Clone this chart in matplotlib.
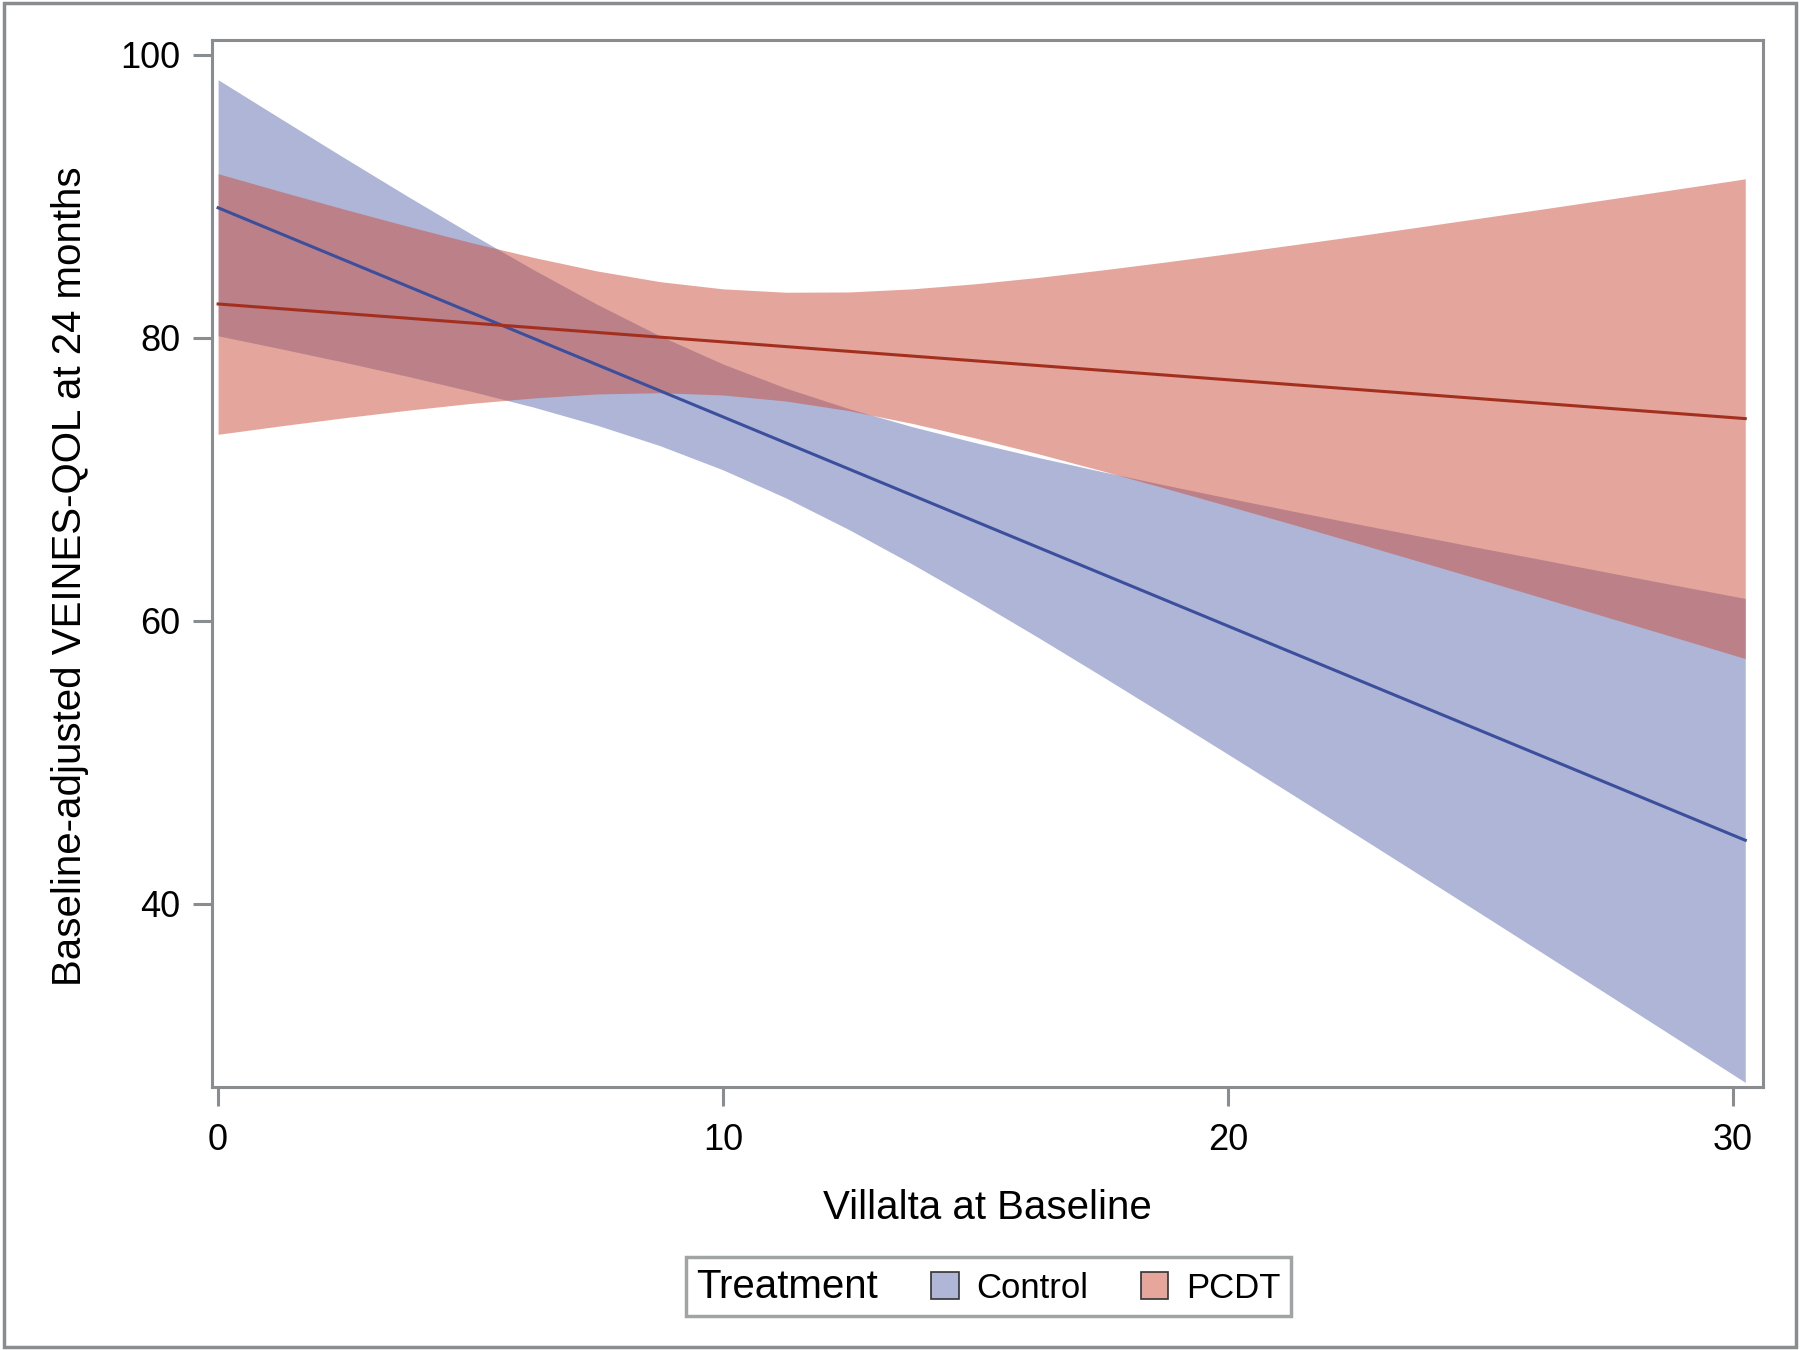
import matplotlib
matplotlib.use("Agg")
import matplotlib.pyplot as plt
from matplotlib.patches import Patch, Rectangle

# Regression fits of VEINES-QOL on baseline Villalta, with 95% bands, by treatment arm
band_x = [0, 1.25, 2.5, 3.75, 5, 6.25, 7.5, 8.75, 10, 11.25, 12.5, 13.75, 15,
          16.25, 17.5, 18.75, 20, 21.25, 22.5, 23.75, 25, 26.25, 27.5, 28.75, 30, 30.25]

control_upper = [98.25, 95.48, 92.73, 90.02, 87.38, 84.82, 82.39, 80.15, 78.16, 76.45,
                 75.00, 73.73, 72.60, 71.55, 70.56, 69.61, 68.69, 67.79, 66.90, 66.03,
                 65.16, 64.31, 63.45, 62.60, 61.76, 61.59]
control_lower = [80.15, 79.23, 78.28, 77.29, 76.24, 75.11, 73.84, 72.39, 70.68, 68.69,
                 66.45, 64.02, 61.46, 58.82, 56.11, 53.36, 50.59, 47.80, 44.99, 42.17,
                 39.34, 36.50, 33.66, 30.81, 27.96, 27.39]

pcdt_upper = [91.61, 90.34, 89.10, 87.90, 86.75, 85.69, 84.74, 83.98, 83.47, 83.23,
              83.25, 83.47, 83.83, 84.28, 84.80, 85.36, 85.95, 86.56, 87.18, 87.82,
              88.47, 89.12, 89.78, 90.44, 91.11, 91.25]
pcdt_lower = [73.19, 73.79, 74.36, 74.89, 75.37, 75.76, 76.04, 76.13, 75.97, 75.54,
              74.86, 73.96, 72.93, 71.81, 70.62, 69.39, 68.13, 66.86, 65.56, 64.25,
              62.94, 61.61, 60.28, 58.95, 57.61, 57.34]

# fitted lines (straight, so only their ends)
fit_x = [0, 30.25]
control_fit = [89.2, 44.5]
pcdt_fit = [82.4, 74.3]

x_ticks = [0, 10, 20, 30]
y_ticks = [40, 60, 80, 100]

plt.rcParams['font.family'] = ['Liberation Sans', 'DejaVu Sans']

GRAY = "#8a8d8f"

fig = plt.figure(figsize=(18, 13.5), dpi=100)
ax = fig.add_axes([0.1178, 0.1948, 0.8616, 0.7756])

# confidence bands
ax.fill_between(band_x, control_lower, control_upper, color="#5f6daf", alpha=0.5, lw=0)
ax.fill_between(band_x, pcdt_lower, pcdt_upper, color="#cb4d3b", alpha=0.5, lw=0)

ax.plot(fit_x, control_fit, color="#3b4f9c", lw=2.2)
ax.plot(fit_x, pcdt_fit, color="#a3301f", lw=2.2)

ax.set_xlim(-0.12, 30.6)
ax.set_ylim(27.06, 101.06)
ax.set_xticks(x_ticks)
ax.set_yticks(y_ticks)

for s in ax.spines.values():
    s.set_color(GRAY)
    s.set_linewidth(2.2)
ax.tick_params(direction="out", length=14, width=2.2, color=GRAY, labelsize=26)
ax.tick_params(axis="x", pad=12)
ax.tick_params(axis="y", pad=9)

ax.set_xlabel("Villalta at Baseline", fontsize=29, labelpad=22)
ax.set_ylabel("Baseline-adjusted VEINES-QOL at 24 months", fontsize=29, labelpad=22)
ax.yaxis.label.set_y(0.488)

# legend: title on the left of the entries
handles = [Patch(facecolor="#afb6d8", edgecolor="#333333", lw=1.2, label="Control"),
           Patch(facecolor="#e6a69c", edgecolor="#333333", lw=1.2, label="PCDT")]
leg = fig.legend(handles=handles, title="Treatment", ncol=2, loc="center",
                 bbox_to_anchor=(0.549, 0.047), fontsize=25, title_fontsize=29,
                 frameon=True, fancybox=False, edgecolor=GRAY,
                 handlelength=0.8, handleheight=0.8, handletextpad=0.5,
                 columnspacing=0.2, borderpad=0.3)
leg.get_frame().set_linewidth(2.5)
box = leg.get_children()[0]
title_box = box.get_children()[0]
entries = box.get_children()[1]
box._children.remove(title_box)
entries._children = [title_box] + entries.get_children()
entries.sep = 38

# outer border around the whole figure
fig.patches.append(Rectangle((0.002, 0.002), 0.996, 0.996, transform=fig.transFigure,
                             fill=False, edgecolor=GRAY, lw=2.5))

fig.savefig("out.png", dpi=100)
